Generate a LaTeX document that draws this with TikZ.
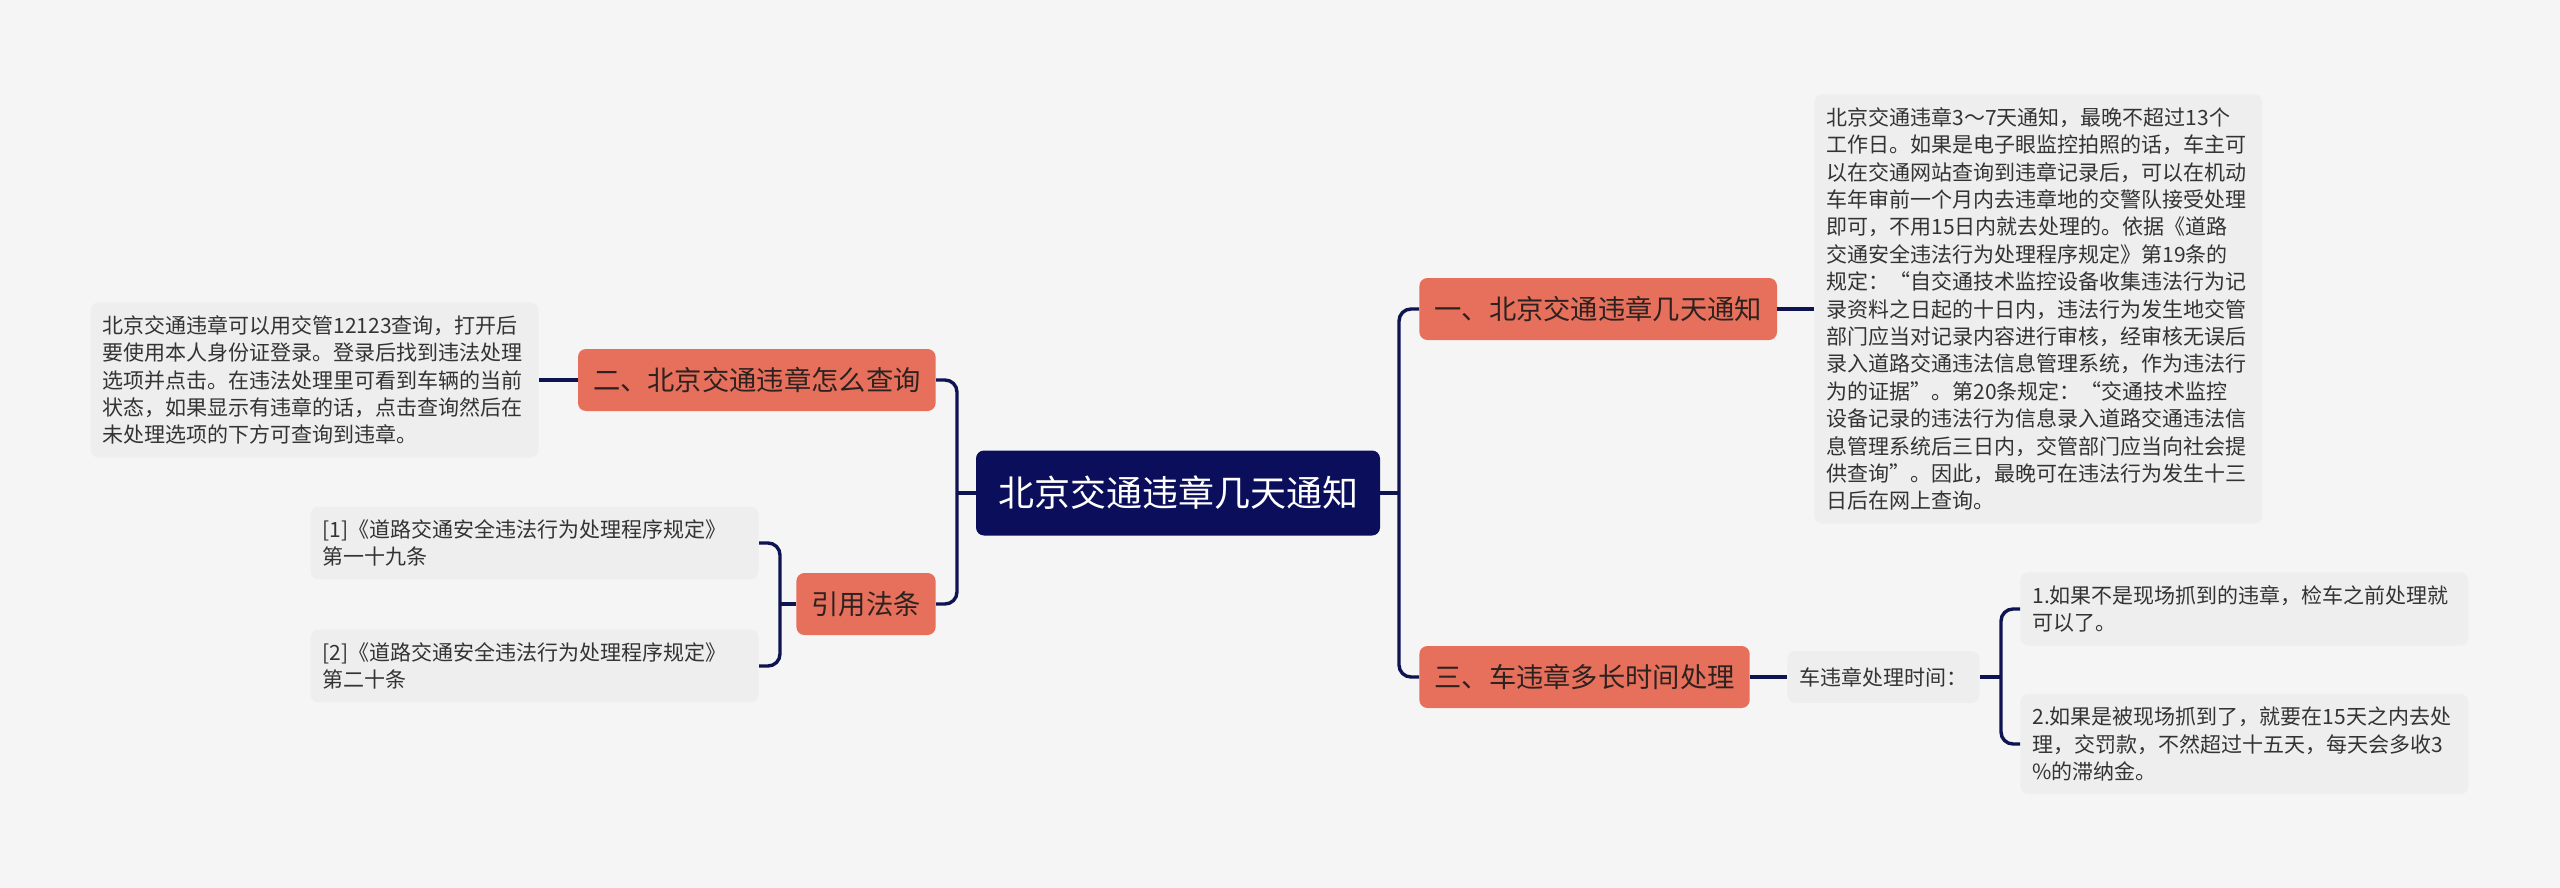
\documentclass[tikz,border=0pt]{standalone}
\usepackage{fontspec}
\newfontfamily\cjk{Noto Sans CJK SC}
\definecolor{bgc}{HTML}{F5F5F5}
\definecolor{navyc}{HTML}{0B0F5B}
\definecolor{salmonc}{HTML}{E6705B}
\definecolor{leafc}{HTML}{EEEEEE}
\definecolor{txtc}{HTML}{333333}
\definecolor{brtxt}{HTML}{2E2220}
\definecolor{connc}{HTML}{0E1352}
\tikzset{
  rootbox/.style={fill=navyc, rounded corners=4pt, text=white, font=\cjk\fontsize{18}{22}\selectfont, minimum width=202pt, minimum height=42.5pt, inner sep=0pt},
  branchbox/.style={fill=salmonc, rounded corners=4pt, text=brtxt, font=\cjk\fontsize{13.65}{16}\selectfont, inner xsep=7.5pt, inner ysep=0pt, minimum height=31pt},
  leafbox/.style={fill=leafc, rounded corners=4pt, text=txtc, font=\cjk\fontsize{10.5}{13.7}\selectfont, align=left, text width=212pt, inner xsep=6pt, inner ysep=6.5pt},
  smallleaf/.style={fill=leafc, rounded corners=4pt, text=txtc, font=\cjk\fontsize{10.5}{13.7}\selectfont, inner xsep=6pt, inner ysep=0pt, minimum height=26pt},
  linkline/.style={draw=connc, line width=1.7pt, rounded corners=6pt}
}
\begin{document}
\begin{tikzpicture}[x=0.5pt,y=-0.5pt]
\fill[bgc] (0,0) rectangle (2560,888);
\useasboundingbox (0,0) rectangle (2560,888);

% central
\node[rootbox] (root) at (1178,493) {北京交通违章几天通知};

% branches
\node[branchbox, anchor=west] (n1) at (1419,309) {一、北京交通违章几天通知};
\node[branchbox, anchor=west] (n3) at (1419,677) {三、车违章多长时间处理};
\node[branchbox, anchor=east] (n2) at (936,380) {二、北京交通违章怎么查询};
\node[branchbox, anchor=east] (nref) at (936,604) {引用法条};

% leaves
\node[leafbox, anchor=east] (leafL) at (539,380) {北京交通违章可以用交管12123查询，打开后\\要使用本人身份证登录。登录后找到违法处理\\选项并点击。在违法处理里可看到车辆的当前\\状态，如果显示有违章的话，点击查询然后在\\未处理选项的下方可查询到违章。};
\node[leafbox, anchor=east] (ref1) at (759,543) {[1]《道路交通安全违法行为处理程序规定》\\第一十九条};
\node[leafbox, anchor=east] (ref2) at (759,666) {[2]《道路交通安全违法行为处理程序规定》\\第二十条};
\node[leafbox, anchor=west] (big) at (1814,309) {北京交通违章3～7天通知，最晚不超过13个\\工作日。如果是电子眼监控拍照的话，车主可\\以在交通网站查询到违章记录后，可以在机动\\车年审前一个月内去违章地的交警队接受处理\\即可，不用15日内就去处理的。依据《道路\\交通安全违法行为处理程序规定》第19条的\\规定：“自交通技术监控设备收集违法行为记\\录资料之日起的十日内，违法行为发生地交管\\部门应当对记录内容进行审核，经审核无误后\\录入道路交通违法信息管理系统，作为违法行\\为的证据”。第20条规定：“交通技术监控\\设备记录的违法行为信息录入道路交通违法信\\息管理系统后三日内，交管部门应当向社会提\\供查询”。因此，最晚可在违法行为发生十三\\日后在网上查询。};
\node[smallleaf, anchor=west] (tm) at (1787,677) {车违章处理时间：};
\node[leafbox, anchor=west] (it1) at (2020,609) {1.如果不是现场抓到的违章，检车之前处理就\\可以了。};
\node[leafbox, anchor=west] (it2) at (2020,744) {2.如果是被现场抓到了，就要在15天之内去处\\理，交罚款，不然超过十五天，每天会多收3\\\%的滞纳金。};

% connectors
\coordinate (jl) at (957,493);
\coordinate (jr) at (1399,493);
\coordinate (jb) at (780,604);
\coordinate (jt) at (2001,677);
\draw[linkline] (root.west) -- (jl);
\draw[linkline] (jl) |- (n2.east);
\draw[linkline] (jl) |- (nref.east);
\draw[linkline] (n2.west) -- (leafL.east);
\draw[linkline] (nref.west) -- (jb);
\draw[linkline] (jb) |- (ref1.east);
\draw[linkline] (jb) |- (ref2.east);
\draw[linkline] (root.east) -- (jr);
\draw[linkline] (jr) |- (n1.west);
\draw[linkline] (jr) |- (n3.west);
\draw[linkline] (n1.east) -- (big.west);
\draw[linkline] (n3.east) -- (tm.west);
\draw[linkline] (tm.east) -- (jt);
\draw[linkline] (jt) |- (it1.west);
\draw[linkline] (jt) |- (it2.west);
\end{tikzpicture}
\end{document}
